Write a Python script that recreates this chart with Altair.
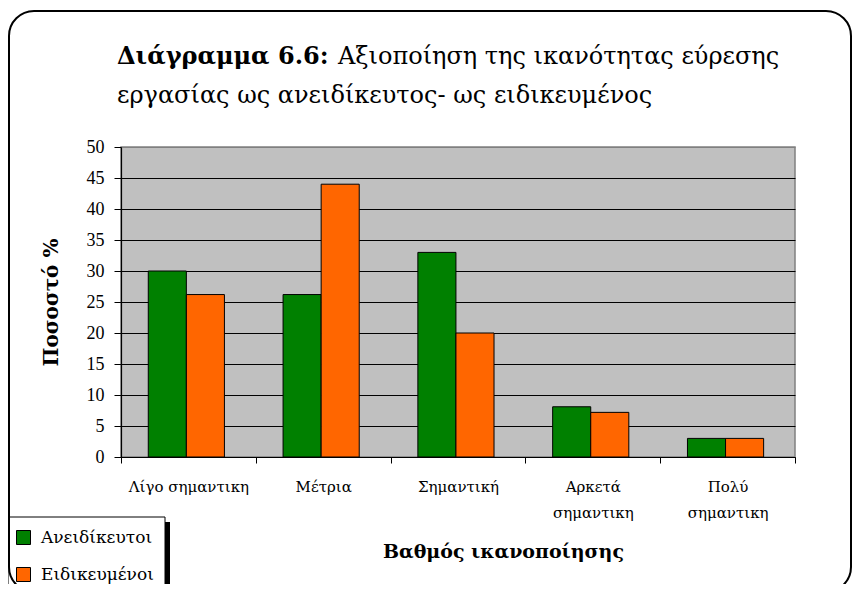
import altair as alt
import pandas as pd

categories = ["Λίγο σημαντικη", "Μέτρια", "Σημαντική", "Αρκετά σημαντικη", "Πολύ σημαντικη"]
series = ["Ανειδίκευτοι", "Ειδικευμένοι"]
aneidikeftoi = [30, 26.2, 33, 8.1, 3]
eidikevmenoi = [26.2, 44, 20, 7.2, 3]
colors = ["#008000", "#FF6600"]
y_ticks = [0, 5, 10, 15, 20, 25, 30, 35, 40, 45, 50]

rows = []
for c, a, e in zip(categories, aneidikeftoi, eidikevmenoi):
    rows.append({"category": c, "series": series[0], "value": a})
    rows.append({"category": c, "series": series[1], "value": e})
df = pd.DataFrame(rows)

NUMFONT = "Liberation Serif"
GFONT = "DejaVu Serif"
one = alt.Data(values=[{}])

bars = alt.Chart(df).mark_bar(stroke="black", strokeWidth=1).encode(
    x=alt.X("category:N", sort=categories,
            scale=alt.Scale(paddingInner=0, paddingOuter=0),
            axis=alt.Axis(title="Βαθμός ικανοποίησης", labelAngle=0,
                          tickBand="extent", tickSize=6, tickColor="black",
                          domainColor="black", domainWidth=1.2,
                          labelFont=GFONT, labelFontSize=15, labelColor="black",
                          labelBaseline="top", labelPadding=16, labelLineHeight=26,
                          labelExpr="datum.label == 'Αρκετά σημαντικη' || datum.label == 'Πολύ σημαντικη' ? split(datum.label, ' ') : datum.label",
                          titleFont=GFONT, titleFontSize=19, titleFontWeight="bold",
                          titleColor="black", titleX=382, titleY=100,
                          titleBaseline="alphabetic", grid=False)),
    xOffset=alt.XOffset("series:N", sort=series,
                        scale=alt.Scale(paddingOuter=0.77, paddingInner=0, align=0.465)),
    y=alt.Y("value:Q", scale=alt.Scale(domain=[0, 50], nice=False),
            axis=alt.Axis(title="Ποσοστό %", values=y_ticks, tickSize=7,
                          tickColor="black", domainColor="black", domainWidth=1.2,
                          labelFont=NUMFONT, labelFontSize=18, labelColor="black",
                          labelPadding=10, grid=True,
                          gridColor=alt.condition(alt.datum.value == 50, alt.value("#808080"), alt.value("black")),
                          gridWidth=1.2, gridOpacity=1,
                          titleFont=GFONT, titleFontSize=20, titleFontWeight="bold",
                          titleColor="black", titleAngle=270, titleX=-70, titleY=155,
                          titleBaseline="middle", titleAlign="center")),
    color=alt.Color("series:N", sort=series,
                    scale=alt.Scale(domain=series, range=colors),
                    legend=alt.Legend(title=None, orient="none", legendX=-106, legendY=382,
                                      padding=0, symbolType="square", symbolSize=196,
                                      symbolStrokeColor="black", symbolStrokeWidth=1,
                                      symbolOpacity=1,
                                      labelFont=GFONT, labelFontSize=17, labelColor="black",
                                      labelOffset=9, rowPadding=18)),
)

shadow = alt.Chart(one).mark_rect(fill="black").encode(
    x=alt.value(-108), x2=alt.value(49), y=alt.value(375), y2=alt.value(460))
box = alt.Chart(one).mark_rect(fill="white", stroke="black", strokeWidth=1).encode(
    x=alt.value(-113), x2=alt.value(44), y=alt.value(370), y2=alt.value(460))
border = alt.Chart(one).mark_rect(fillOpacity=0, stroke="black", strokeWidth=2,
                                  cornerRadius=25).encode(
    x=alt.value(-112), x2=alt.value(730), y=alt.value(-136), y2=alt.value(445))

t1 = alt.Chart(one).mark_text(font=GFONT, fontSize=24, fontWeight="bold", align="left",
                              baseline="alphabetic", color="black").encode(
    x=alt.value(-4), y=alt.value(-83), text=alt.value("Διάγραμμα 6.6:"))
t2 = alt.Chart(one).mark_text(font=GFONT, fontSize=24, align="left",
                              baseline="alphabetic", color="black").encode(
    x=alt.value(217), y=alt.value(-83), text=alt.value("Αξιοποίηση της ικανότητας εύρεσης"))
t3 = alt.Chart(one).mark_text(font=GFONT, fontSize=24, align="left",
                              baseline="alphabetic", color="black").encode(
    x=alt.value(-4), y=alt.value(-44), text=alt.value("εργασίας ως ανειδίκευτος- ως ειδικευμένος"))

chart = alt.layer(shadow, box, bars, border, t1, t2, t3).properties(
    width=674, height=310,
    autosize=alt.AutoSizeParams(type="none"),
    padding={"left": 113, "top": 139, "right": 58, "bottom": 127},
    background="white",
).configure_view(fill="#C0C0C0", stroke="#808080", strokeWidth=1.5)

chart.save("out.html", embed_options={"renderer": "svg", "actions": False})
